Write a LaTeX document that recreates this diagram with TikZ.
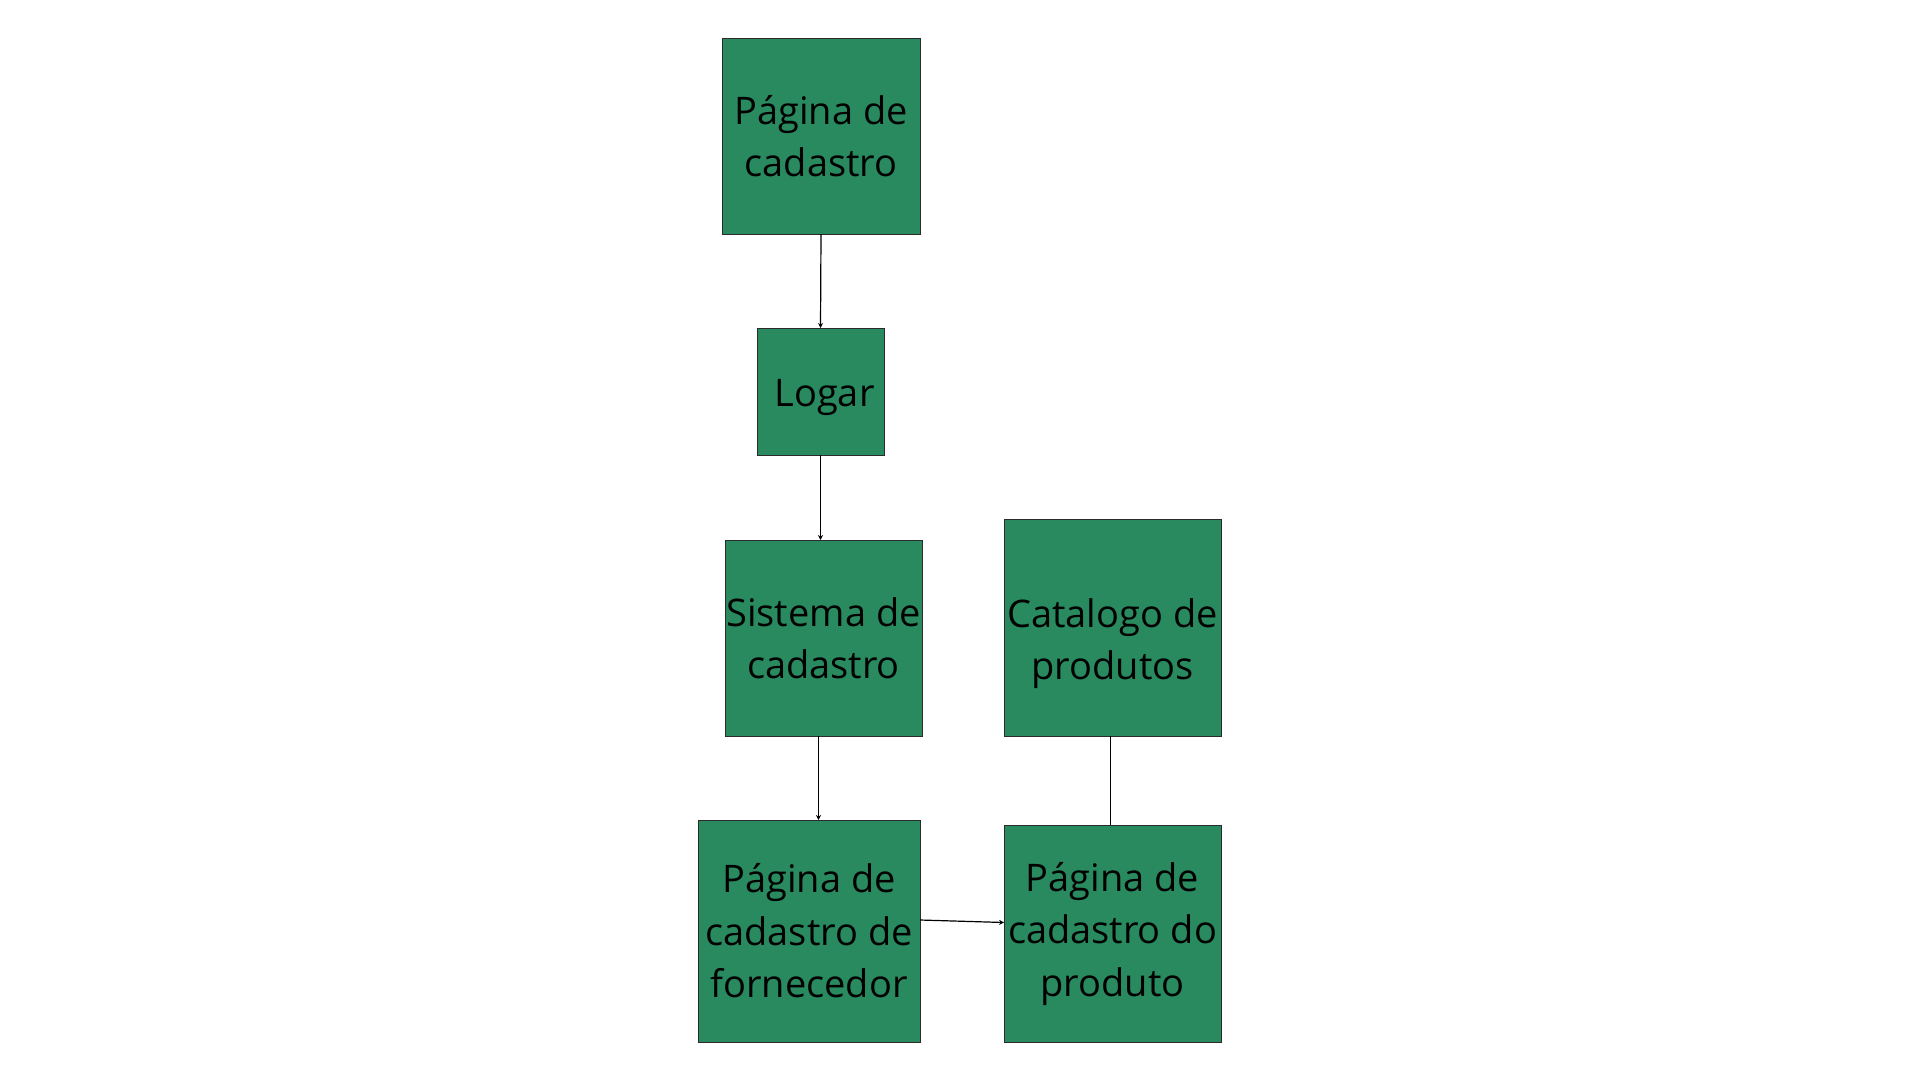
\documentclass[tikz,border=0pt]{standalone}
\usepackage{fontspec}
\setmainfont{Open Sans}
\usetikzlibrary{arrows.meta}
\definecolor{boxgreen}{HTML}{298A60}
\definecolor{boxline}{HTML}{2B2B2B}

\begin{document}
\begin{tikzpicture}[x=1pt,y=-1pt,
every node/.style={
rectangle,
align = center,
anchor=north west,
outer sep=0pt,
inner sep=0pt,
font=\fontsize{38}{52.5}\selectfont,
},
box/.style={
draw=boxline,
line width=1pt,
fill=boxgreen,
},
link/.style={
line width=1.2pt,
-{Stealth[length=5pt,width=5pt]},
}]

\useasboundingbox (0,0) rectangle (1920,1080);

%left column
\node[box,minimum width=198pt,minimum height=196pt](cadastro)at(722,38){Página de\\cadastro};
\node[box,minimum width=127pt,minimum height=127pt](logar)at(757,328){};
\node[anchor=center](logar-text)at([xshift=4pt,yshift=-6pt]logar.center){Logar};
\node[box,minimum width=197pt,minimum height=196pt](sistema)at(725,540){Sistema de\\cadastro};
\node[box,minimum width=222pt,minimum height=222pt](fornecedor)at(698,820){Página de\\cadastro de\\fornecedor};
%right column
\node[box,minimum width=217pt,minimum height=217pt](catalogo)at(1004,519){};
\node[anchor=center](catalogo-text)at([yshift=-16pt]catalogo.center){Catalogo de\\produtos};
\node[box,minimum width=217pt,minimum height=217pt](produto)at(1004,825){Página de\\cadastro do\\produto};

%links
\draw[link](cadastro.south)--(logar.north);
\draw[link](logar.south)--(logar.south |- sistema.north);
\draw[link]([xshift=-5pt]sistema.south)--([xshift=-5pt]sistema.south |- fornecedor.north);
\draw[link]([yshift=11pt]fornecedor.east)--([yshift=11pt]produto.west);
\draw[line width=1.2pt]([xshift=-2pt]catalogo.south)--([xshift=-2pt]produto.north);
\end{tikzpicture}
\end{document}
